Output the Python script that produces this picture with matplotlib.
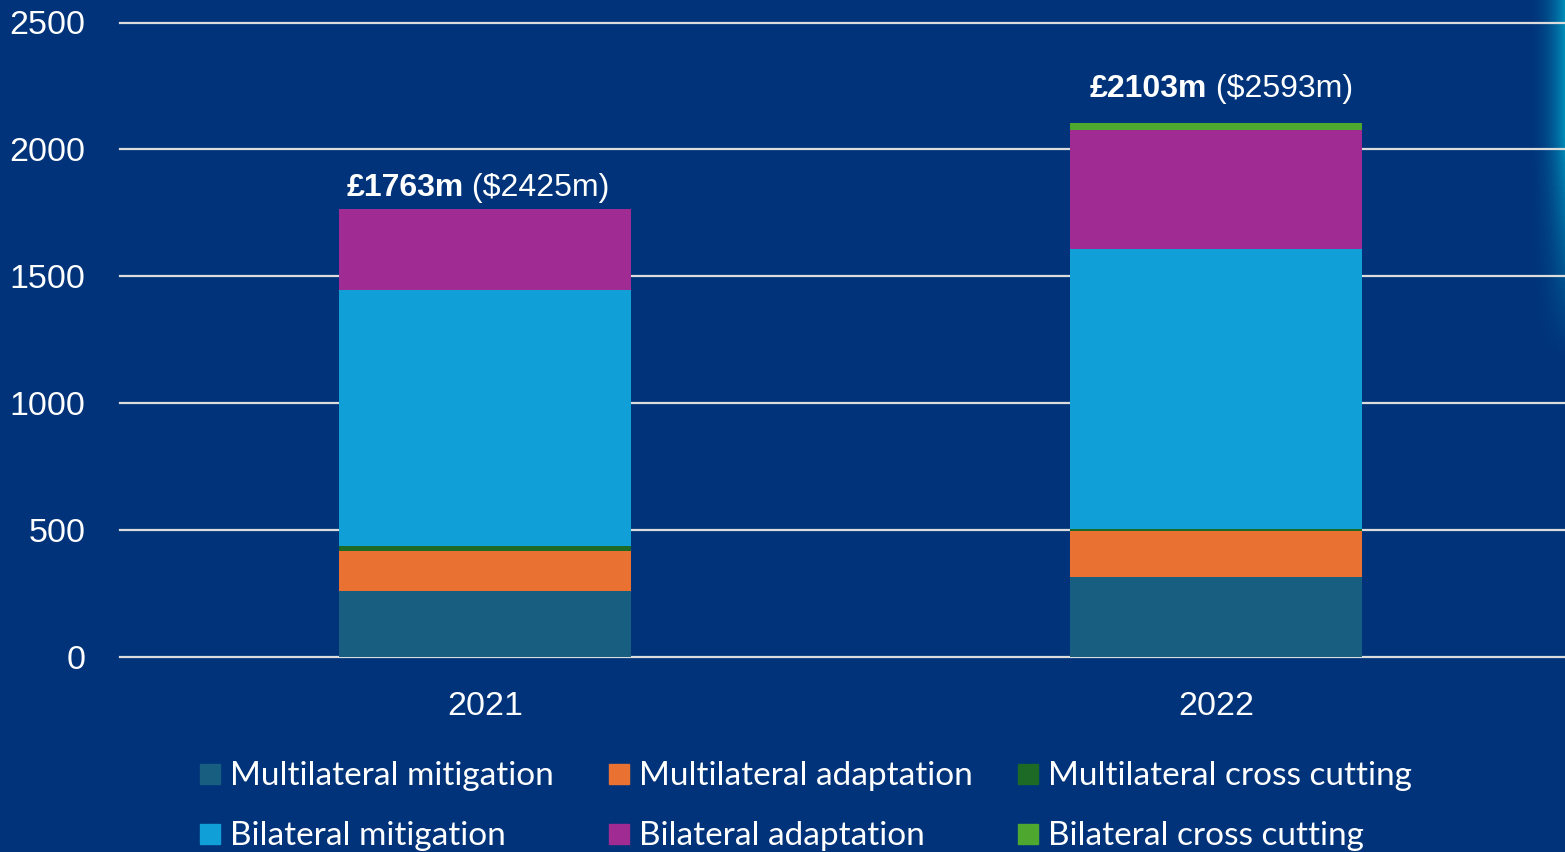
import matplotlib
matplotlib.use("Agg")
import matplotlib.pyplot as plt
import numpy as np
from matplotlib.patches import Rectangle
from matplotlib.offsetbox import TextArea, HPacker, AnnotationBbox

years = ["2021", "2022"]
series_names = ["Multilateral mitigation", "Multilateral adaptation", "Multilateral cross cutting",
                "Bilateral mitigation", "Bilateral adaptation", "Bilateral cross cutting"]
multilateral_mitigation = [259, 313]
multilateral_adaptation = [159, 184]
multilateral_cross_cutting = [18, 5]
bilateral_mitigation = [1009, 1106]
bilateral_adaptation = [318, 469]
bilateral_cross_cutting = [0, 26]
totals_gbp = ["£1763m", "£2103m"]
totals_usd = ["($2425m)", "($2593m)"]
y_ticks = [0, 500, 1000, 1500, 2000, 2500]

series = [multilateral_mitigation, multilateral_adaptation, multilateral_cross_cutting,
          bilateral_mitigation, bilateral_adaptation, bilateral_cross_cutting]
colors = ["#175E80", "#E97132", "#1D6A27", "#119FD7", "#A02B93", "#4EA72E"]
label_offsets = [(-5, 5), (4, 14)]  # points, per bar

BG = "#00337A"
W, H = 1565, 852
fig = plt.figure(figsize=(W / 100, H / 100), dpi=100, facecolor=BG)

# right-edge glow
grad = np.zeros((60, 40, 4))
xs = np.linspace(0, 1, 40) ** 2.2
ys = np.clip((1 - np.linspace(0, 1, 60)) * 1.6, 0, 1)[:, None]
glow = np.array([0.0, 0.55, 0.72])
grad[..., :3] = glow
grad[..., 3] = (xs[None, :] * ys)
gax = fig.add_axes([(W - 40) / W, 1 - 360 / H, 40 / W, 360 / H])
gax.imshow(grad, aspect="auto", extent=[0, 1, 0, 1], origin="upper")
gax.axis("off")

y0_px, ytop_px = 656.7, 22.5
ax_left = 120 / W
ax = fig.add_axes([ax_left, (H - y0_px) / H, 1 - ax_left, (y0_px - ytop_px) / H])
ax.set_facecolor("none")
ax.set_ylim(0, 2500)
ax.set_xlim(-0.499, 1.477)

for t in y_ticks:
    ax.axhline(t, color="#DCDCDC", lw=1.6, zorder=0, clip_on=False)

x = np.arange(len(years))
bottom = np.zeros(len(years))
for vals, c, name in zip(series, colors, series_names):
    ax.bar(x, vals, width=0.4, bottom=bottom, color=c, label=name, zorder=2)
    bottom += np.array(vals)

for i in range(len(years)):
    ta1 = TextArea(totals_gbp[i], textprops=dict(color="white", fontsize=23, fontweight="bold",
                                                 family="Liberation Sans"))
    ta2 = TextArea(" " + totals_usd[i], textprops=dict(color="white", fontsize=23,
                                                       family="Liberation Sans"))
    box = HPacker(children=[ta1, ta2], pad=0, sep=0, align="baseline")
    ab = AnnotationBbox(box, (x[i], bottom[i]), xybox=label_offsets[i], xycoords="data",
                        boxcoords="offset points", box_alignment=(0.5, 0), frameon=False)
    ax.add_artist(ab)

for s in ax.spines.values():
    s.set_visible(False)
ax.set_yticks(y_ticks)
ax.set_yticklabels([str(t) for t in y_ticks])
ax.set_xticks(x)
ax.set_xticklabels(years)
ax.tick_params(axis="both", length=0, colors="white", labelsize=24.5)
ax.tick_params(axis="y", pad=25)
ax.tick_params(axis="x", pad=25)
for lab in ax.get_xticklabels() + ax.get_yticklabels():
    lab.set_family("Liberation Sans")

# legend (3 columns x 2 rows)
col_x = [200, 609, 1018]
row_y = [774, 834]
for k, (name, c) in enumerate(zip(series_names, colors)):
    r, cidx = divmod(k, 3)
    cx, cy = col_x[cidx], row_y[r]
    fig.add_artist(Rectangle((cx / W, (H - cy - 10) / H), 20 / W, 20 / H,
                             transform=fig.transFigure, color=c))
    fig.text((cx + 30) / W, (H - cy - 2) / H, name, color="white", fontsize=24,
             family="Lato", va="center", ha="left")

fig.savefig("out.png", dpi=100, facecolor=BG)
